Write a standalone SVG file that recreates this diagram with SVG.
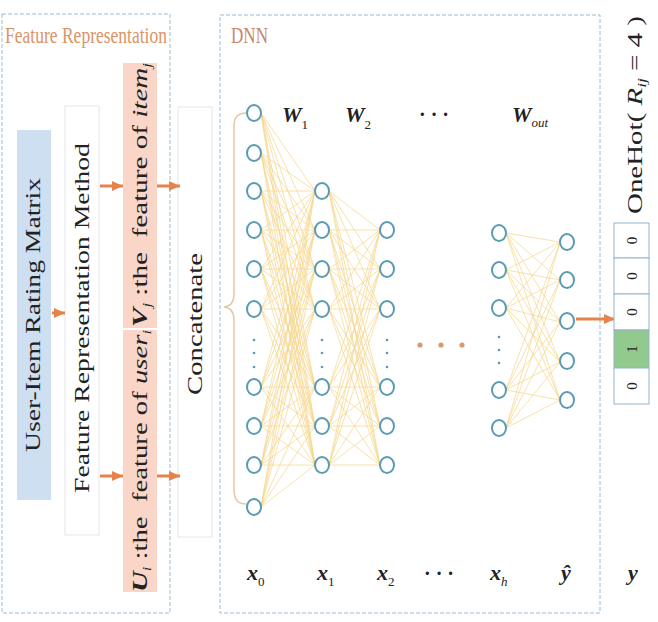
<svg xmlns="http://www.w3.org/2000/svg" width="658" height="622" viewBox="0 0 658 622">
<defs>
<style>
.t{font-family:"Liberation Serif","Times New Roman",serif;fill:#222;white-space:pre}
.bi{font-weight:bold;font-style:italic}
.it{font-style:italic}
.dash{fill:none;stroke:#9bbcd0;stroke-width:1;stroke-dasharray:4 2}
.box{stroke:#e3e6ea;stroke-width:1}
.arrow{fill:none;stroke:#e5834a;stroke-width:3;marker-end:url(#arr)}
.edge{fill:none;stroke:#f5d58a;stroke-width:0.9;opacity:0.8}
.n{fill:#fff;stroke:#5a9bb3;stroke-width:2}
.dot{fill:#5a9bb3}
.cell{fill:#fff;stroke:#8fb6cc;stroke-width:1}
</style>
<marker id="arr" markerUnits="userSpaceOnUse" markerWidth="12" markerHeight="12" refX="11" refY="6" orient="auto">
<path d="M0 1 L11 6 L0 11 z" fill="#e5834a"/>
</marker>
</defs>
<rect width="658" height="622" fill="#fff"/>

<g id="feature-panel">
<rect class="dash" x="2" y="14" width="168" height="599"/>
<text class="t" x="5" y="43" font-size="23" style="fill:#dc9466" textLength="162" lengthAdjust="spacingAndGlyphs">Feature Representation</text>
</g>

<g id="dnn-panel">
<rect class="dash" x="220" y="15" width="380" height="598"/>
<text class="t" x="231" y="43" font-size="23" style="fill:#c9866a" textLength="37" lengthAdjust="spacingAndGlyphs">DNN</text>
</g>

<g id="rating-matrix">
<rect x="17" y="130" width="34" height="370" fill="#cddff0"/>
<text class="t" transform="translate(40,315) rotate(-90)" text-anchor="middle" font-size="20" textLength="274" lengthAdjust="spacingAndGlyphs">User-Item Rating Matrix</text>
</g>

<g id="frm">
<rect class="box" x="65" y="106" width="34" height="429" fill="#fff"/>
<text class="t" transform="translate(89,318) rotate(-90)" text-anchor="middle" font-size="21" textLength="350" lengthAdjust="spacingAndGlyphs">Feature Representation Method</text>
</g>

<g id="item-feature">
<rect x="123" y="63" width="34" height="265" fill="#f9d6c7"/>
<text class="t" transform="translate(147,195) rotate(-90)" text-anchor="middle" font-size="21" textLength="264" lengthAdjust="spacingAndGlyphs"><tspan class="bi">V</tspan><tspan class="it" font-size="12" dy="4">j</tspan><tspan dy="-4"> :the  feature of </tspan><tspan class="it">item</tspan><tspan class="it" font-size="12" dy="4">j</tspan></text>
</g>

<g id="user-feature">
<rect x="123" y="330" width="34" height="262" fill="#f9d6c7"/>
<text class="t" transform="translate(147,461) rotate(-90)" text-anchor="middle" font-size="21" textLength="262" lengthAdjust="spacingAndGlyphs"><tspan class="bi">U</tspan><tspan class="it" font-size="12" dy="4">i</tspan><tspan dy="-4"> :the  feature of </tspan><tspan class="it">user</tspan><tspan class="it" font-size="12" dy="4">i</tspan></text>
</g>

<g id="concatenate">
<rect class="box" x="178" y="107" width="34" height="430" fill="#fff"/>
<text class="t" transform="translate(202,324) rotate(-90)" text-anchor="middle" font-size="20" textLength="142" lengthAdjust="spacingAndGlyphs">Concatenate</text>
</g>

<g id="connectors">
<path class="arrow" d="M52 313 L65 313"/>
<path class="arrow" d="M100 186 L123 186"/>
<path class="arrow" d="M100 476 L123 476"/>
<path class="arrow" d="M157 186 L180 186"/>
<path class="arrow" d="M157 476 L180 476"/>
<path class="arrow" d="M576 319 L615 319"/>
<path d="M246 113 Q234 113 234 126 L234 294 Q234 306 224 307 Q234 308 234 320 L234 490 Q234 504 246 504" fill="none" stroke="#e6c8a4" stroke-width="1.5"/>
<g id="edges-01">
<path class="edge" d="M261 113L315 191M261 113L315 230M261 113L315 269M261 113L315 309M261 113L315 387M261 113L315 426M261 113L315 465"/>
<path class="edge" d="M261 153L315 191M261 153L315 230M261 153L315 269M261 153L315 309M261 153L315 387M261 153L315 426M261 153L315 465"/>
<path class="edge" d="M261 191L315 191M261 191L315 230M261 191L315 269M261 191L315 309M261 191L315 387M261 191L315 426M261 191L315 465"/>
<path class="edge" d="M261 230L315 191M261 230L315 230M261 230L315 269M261 230L315 309M261 230L315 387M261 230L315 426M261 230L315 465"/>
<path class="edge" d="M261 269L315 191M261 269L315 230M261 269L315 269M261 269L315 309M261 269L315 387M261 269L315 426M261 269L315 465"/>
<path class="edge" d="M261 309L315 191M261 309L315 230M261 309L315 269M261 309L315 309M261 309L315 387M261 309L315 426M261 309L315 465"/>
<path class="edge" d="M261 387L315 191M261 387L315 230M261 387L315 269M261 387L315 309M261 387L315 387M261 387L315 426M261 387L315 465"/>
<path class="edge" d="M261 426L315 191M261 426L315 230M261 426L315 269M261 426L315 309M261 426L315 387M261 426L315 426M261 426L315 465"/>
<path class="edge" d="M261 465L315 191M261 465L315 230M261 465L315 269M261 465L315 309M261 465L315 387M261 465L315 426M261 465L315 465"/>
<path class="edge" d="M261 507L315 191M261 507L315 230M261 507L315 269M261 507L315 309M261 507L315 387M261 507L315 426M261 507L315 465"/>
</g>
<g id="edges-12">
<path class="edge" d="M329 191L380 230M329 191L380 269M329 191L380 309M329 191L380 387M329 191L380 426M329 191L380 465"/>
<path class="edge" d="M329 230L380 230M329 230L380 269M329 230L380 309M329 230L380 387M329 230L380 426M329 230L380 465"/>
<path class="edge" d="M329 269L380 230M329 269L380 269M329 269L380 309M329 269L380 387M329 269L380 426M329 269L380 465"/>
<path class="edge" d="M329 309L380 230M329 309L380 269M329 309L380 309M329 309L380 387M329 309L380 426M329 309L380 465"/>
<path class="edge" d="M329 387L380 230M329 387L380 269M329 387L380 309M329 387L380 387M329 387L380 426M329 387L380 465"/>
<path class="edge" d="M329 426L380 230M329 426L380 269M329 426L380 309M329 426L380 387M329 426L380 426M329 426L380 465"/>
<path class="edge" d="M329 465L380 230M329 465L380 269M329 465L380 309M329 465L380 387M329 465L380 426M329 465L380 465"/>
</g>
<g id="edges-h-out">
<path class="edge" d="M506 233L560 242M506 233L560 280M506 233L560 322M506 233L560 362M506 233L560 400"/>
<path class="edge" d="M506 270L560 242M506 270L560 280M506 270L560 322M506 270L560 362M506 270L560 400"/>
<path class="edge" d="M506 308L560 242M506 308L560 280M506 308L560 322M506 308L560 362M506 308L560 400"/>
<path class="edge" d="M506 390L560 242M506 390L560 280M506 390L560 322M506 390L560 362M506 390L560 400"/>
<path class="edge" d="M506 428L560 242M506 428L560 280M506 428L560 322M506 428L560 362M506 428L560 400"/>
</g>
</g>

<g id="layer-x0">
<ellipse class="n" cx="254" cy="113" rx="7" ry="8"/>
<ellipse class="n" cx="254" cy="153" rx="7" ry="8"/>
<ellipse class="n" cx="254" cy="191" rx="7" ry="8"/>
<ellipse class="n" cx="254" cy="230" rx="7" ry="8"/>
<ellipse class="n" cx="254" cy="269" rx="7" ry="8"/>
<ellipse class="n" cx="254" cy="309" rx="7" ry="8"/>
<circle class="dot" cx="254" cy="340" r="1.3"/>
<circle class="dot" cx="254" cy="353" r="1.3"/>
<circle class="dot" cx="254" cy="367" r="1.3"/>
<ellipse class="n" cx="254" cy="387" rx="7" ry="8"/>
<ellipse class="n" cx="254" cy="426" rx="7" ry="8"/>
<ellipse class="n" cx="254" cy="465" rx="7" ry="8"/>
<ellipse class="n" cx="254" cy="507" rx="7" ry="8"/>
</g>
<g id="layer-x1">
<ellipse class="n" cx="322" cy="191" rx="7" ry="8"/>
<ellipse class="n" cx="322" cy="230" rx="7" ry="8"/>
<ellipse class="n" cx="322" cy="269" rx="7" ry="8"/>
<ellipse class="n" cx="322" cy="309" rx="7" ry="8"/>
<circle class="dot" cx="322" cy="340" r="1.3"/>
<circle class="dot" cx="322" cy="353" r="1.3"/>
<circle class="dot" cx="322" cy="367" r="1.3"/>
<ellipse class="n" cx="322" cy="387" rx="7" ry="8"/>
<ellipse class="n" cx="322" cy="426" rx="7" ry="8"/>
<ellipse class="n" cx="322" cy="465" rx="7" ry="8"/>
</g>
<g id="layer-x2">
<ellipse class="n" cx="387" cy="230" rx="7" ry="8"/>
<ellipse class="n" cx="387" cy="269" rx="7" ry="8"/>
<ellipse class="n" cx="387" cy="309" rx="7" ry="8"/>
<circle class="dot" cx="387" cy="340" r="1.3"/>
<circle class="dot" cx="387" cy="353" r="1.3"/>
<circle class="dot" cx="387" cy="367" r="1.3"/>
<ellipse class="n" cx="387" cy="387" rx="7" ry="8"/>
<ellipse class="n" cx="387" cy="426" rx="7" ry="8"/>
<ellipse class="n" cx="387" cy="465" rx="7" ry="8"/>
</g>
<g id="hidden-dots">
<circle cx="420" cy="345" r="2.6" fill="#d99a70"/>
<circle cx="441" cy="345" r="2.6" fill="#d99a70"/>
<circle cx="462" cy="345" r="2.6" fill="#d99a70"/>
</g>
<g id="layer-xh">
<ellipse class="n" cx="499" cy="233" rx="7" ry="8"/>
<ellipse class="n" cx="499" cy="270" rx="7" ry="8"/>
<ellipse class="n" cx="499" cy="308" rx="7" ry="8"/>
<circle class="dot" cx="499" cy="337" r="1.3"/>
<circle class="dot" cx="499" cy="350" r="1.3"/>
<circle class="dot" cx="499" cy="363" r="1.3"/>
<ellipse class="n" cx="499" cy="390" rx="7" ry="8"/>
<ellipse class="n" cx="499" cy="428" rx="7" ry="8"/>
</g>
<g id="layer-out">
<ellipse class="n" cx="567" cy="242" rx="7" ry="8"/>
<ellipse class="n" cx="567" cy="280" rx="7" ry="8"/>
<ellipse class="n" cx="567" cy="321" rx="7" ry="8"/>
<ellipse class="n" cx="567" cy="361" rx="7" ry="8"/>
<ellipse class="n" cx="567" cy="400" rx="7" ry="8"/>
</g>

<g id="weight-labels">
<text class="t" x="282" y="122" font-size="22"><tspan class="bi">W</tspan><tspan font-size="13" dy="7">1</tspan></text>
<text class="t" x="345" y="122" font-size="22"><tspan class="bi">W</tspan><tspan font-size="13" dy="7">2</tspan></text>
<text class="t" x="419" y="121" font-size="20" font-weight="bold">· · ·</text>
<text class="t" x="512" y="122" font-size="22"><tspan class="bi">W</tspan><tspan class="it" font-size="13" dy="5">out</tspan></text>
</g>

<g id="layer-labels">
<text class="t" x="247" y="580" font-size="22"><tspan class="bi">x</tspan><tspan font-size="13" dy="6">0</tspan></text>
<text class="t" x="317" y="580" font-size="22"><tspan class="bi">x</tspan><tspan font-size="13" dy="6">1</tspan></text>
<text class="t" x="377" y="580" font-size="22"><tspan class="bi">x</tspan><tspan font-size="13" dy="6">2</tspan></text>
<text class="t" x="424" y="580" font-size="20" font-weight="bold">· · ·</text>
<text class="t" x="490" y="580" font-size="22"><tspan class="bi">x</tspan><tspan class="it" font-size="13" dy="6">h</tspan></text>
<text class="t bi" x="561" y="580" font-size="22">ŷ</text>
<text class="t bi" x="628" y="580" font-size="22">y</text>
</g>

<g id="onehot">
<text class="t" transform="translate(642,115) rotate(-90)" text-anchor="middle" font-size="20" textLength="198" lengthAdjust="spacingAndGlyphs">OneHot( <tspan class="it">R</tspan><tspan class="it" font-size="12" dy="4">ij</tspan><tspan dy="-4"> = 4 )</tspan></text>
<rect class="cell" x="614" y="223" width="35" height="35"/>
<rect class="cell" x="614" y="258" width="35" height="36"/>
<rect class="cell" x="614" y="294" width="35" height="36"/>
<rect class="cell" x="614" y="330" width="35" height="38" style="fill:#92c98d"/>
<rect class="cell" x="614" y="368" width="35" height="36"/>
<text class="t" transform="translate(636.5,240.5) rotate(-90)" text-anchor="middle" font-size="15">0</text>
<text class="t" transform="translate(636.5,276) rotate(-90)" text-anchor="middle" font-size="15">0</text>
<text class="t" transform="translate(636.5,312) rotate(-90)" text-anchor="middle" font-size="15">0</text>
<text class="t" transform="translate(636.5,349) rotate(-90)" text-anchor="middle" font-size="15">1</text>
<text class="t" transform="translate(636.5,386) rotate(-90)" text-anchor="middle" font-size="15">0</text>
</g>
</svg>
